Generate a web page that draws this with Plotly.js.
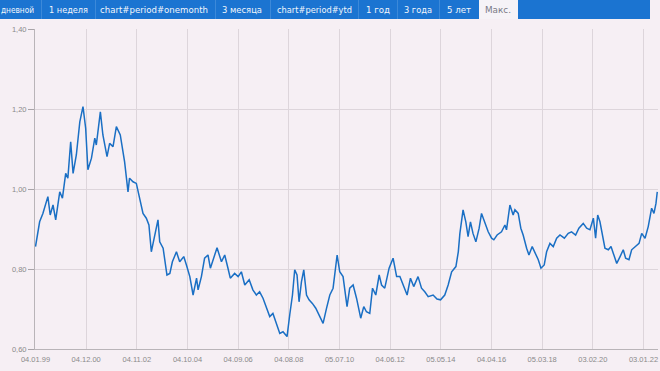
<!DOCTYPE html>
<html>
<head>
<meta charset="utf-8">
<script src="https://cdn.plot.ly/plotly-3.0.1.min.js"></script>
<style>
  html, body { margin: 0; padding: 0; background: #f6eff4; }
  #wrap { position: relative; width: 660px; height: 371px; overflow: hidden; }
  #chart { position: absolute; left: 0; top: 0; width: 660px; height: 371px; }
  #bar { position: absolute; left: 0; top: 0; width: 650px; height: 19px; background: #1b74d1; z-index: 5;
         font-family: "DejaVu Sans", Verdana, sans-serif; font-size: 9.5px; color: #f2f6fc; }
  #bar .t { position: absolute; top: 0; height: 19px; line-height: 19px; white-space: nowrap; display: inline-block; transform-origin: 0 50%; }
  #bar .d { position: absolute; top: 0; width: 1px; height: 19px; background: #3c89d9; }
  #bar .selbox { position: absolute; top: 0; left: 479px; width: 39px; height: 19px; background: #f6f3f7; }
  #bar .sel { color: #7a7a86; }
</style>
</head>
<body>
<div id="wrap">
  <div id="chart"></div>
  <div id="bar"></div>
</div>
<script>
// ---- data ----
var tabLabels = ["дневной", "1 неделя", "chart#period#onemonth", "3 месяца", "chart#period#ytd", "1 год", "3 года", "5 лет", "Макс."];

var xTickVals = ["1999-01-04","2000-12-04","2002-11-04","2004-10-04","2006-09-04","2008-08-04","2010-07-05","2012-06-04","2014-05-05","2016-04-04","2018-03-05","2020-02-03","2022-01-03"];
var xTickText = ["04.01.99","04.12.00","04.11.02","04.10.04","04.09.06","04.08.08","05.07.10","04.06.12","05.05.14","04.04.16","05.03.18","03.02.20","03.01.22"];
var yTickVals = [0.6, 0.8, 1.0, 1.2, 1.4];
var yTickText = ["0,60", "0,80", "1,00", "1,20", "1,40"];

var dates = [
"1999-01-04","1999-03-02","1999-04-16","1999-06-24","1999-07-26","1999-09-03","1999-10-10","1999-12-05",
"2000-01-11","2000-02-25","2000-03-26","2000-05-04","2000-06-06","2000-07-21","2000-09-07","2000-10-21","2000-11-27","2000-12-28",
"2001-02-15","2001-04-02","2001-04-23","2001-06-18","2001-07-23","2001-09-18","2001-10-24","2001-12-10",
"2002-01-25","2002-03-20","2002-05-19","2002-07-05","2002-07-26","2002-09-12","2002-10-28","2002-12-05",
"2003-01-28","2003-03-15","2003-04-20","2003-05-23","2003-07-09","2003-08-23","2003-09-16","2003-11-02","2003-12-25",
"2004-02-03","2004-03-09","2004-05-04","2004-06-18","2004-08-13","2004-09-19","2004-11-05","2004-12-20",
"2005-02-06","2005-02-27","2005-04-14","2005-05-28","2005-07-14","2005-08-16","2005-10-02","2005-11-16",
"2006-01-16","2006-03-02","2006-04-16","2006-05-18","2006-07-17","2006-09-03","2006-10-18","2006-12-04",
"2007-02-03","2007-03-26","2007-05-13","2007-06-27","2007-08-13","2007-09-28","2007-11-14","2007-12-28",
"2008-02-15","2008-04-01","2008-05-15","2008-07-10","2008-08-16","2008-09-23","2008-10-24","2008-11-25","2008-12-23",
"2009-01-25","2009-02-26","2009-04-05","2009-05-10","2009-06-25","2009-08-11","2009-10-06","2009-11-20",
"2010-01-07","2010-02-21","2010-04-07","2010-06-02","2010-07-08","2010-08-23","2010-10-17","2010-11-23",
"2011-01-09","2011-02-25","2011-04-24","2011-06-05","2011-07-12","2011-08-27","2011-10-04","2011-11-18",
"2012-01-04","2012-02-06","2012-03-21","2012-05-20","2012-07-14","2012-09-01","2012-10-16","2012-12-01",
"2013-01-24","2013-03-11","2013-04-25","2013-06-24","2013-08-11","2013-09-25","2013-11-11",
"2014-01-18","2014-03-13","2014-05-01","2014-06-28","2014-08-14","2014-10-01","2014-11-29",
"2015-01-01","2015-01-23","2015-03-08","2015-04-15","2015-05-16","2015-06-18","2015-07-23","2015-09-01","2015-10-16","2015-11-18",
"2016-01-04","2016-02-18","2016-04-05","2016-05-06","2016-06-20","2016-08-20","2016-10-06","2016-10-28","2016-12-14",
"2017-01-28","2017-02-21","2017-04-08","2017-05-14","2017-06-15","2017-08-02","2017-09-03","2017-10-18","2017-11-24",
"2018-01-10","2018-02-16","2018-04-02","2018-05-05","2018-06-20","2018-08-05","2018-09-21","2018-11-06",
"2019-01-05","2019-02-28","2019-04-15","2019-06-10","2019-07-25","2019-09-23","2019-11-10","2019-12-25",
"2020-02-10","2020-03-12","2020-04-10","2020-05-11","2020-06-18","2020-07-19","2020-09-04","2020-10-11","2020-11-12","2020-12-29",
"2021-02-13","2021-03-29","2021-05-01","2021-06-16","2021-07-23","2021-09-17","2021-11-02","2021-12-09",
"2022-01-24","2022-03-09","2022-04-25","2022-05-27","2022-06-24","2022-07-12"
];
var values = [
0.856,0.918,0.939,0.981,0.935,0.960,0.923,0.993,
0.977,1.039,1.027,1.118,1.039,1.085,1.168,1.206,1.152,1.048,
1.077,1.127,1.110,1.193,1.135,1.081,1.114,1.106,
1.156,1.135,1.068,0.993,1.027,1.018,1.014,0.985,
0.939,0.927,0.910,0.843,0.885,0.923,0.868,0.852,0.785,
0.789,0.818,0.843,0.818,0.831,0.810,0.781,0.735,
0.777,0.748,0.781,0.827,0.835,0.802,0.831,0.853,
0.818,0.835,0.802,0.777,0.789,0.781,0.793,0.760,
0.773,0.748,0.735,0.743,0.727,0.702,0.681,0.689,
0.660,0.639,0.643,0.631,0.685,0.735,0.798,0.785,0.718,
0.768,0.798,0.735,0.723,0.714,0.702,0.681,0.664,
0.702,0.735,0.752,0.835,0.793,0.781,0.706,0.752,
0.760,0.727,0.677,0.706,0.693,0.689,0.752,0.735,
0.785,0.760,0.752,0.802,0.827,0.781,0.781,0.760,
0.735,0.777,0.756,0.781,0.752,0.743,0.731,
0.735,0.725,0.723,0.735,0.760,0.793,0.806,
0.843,0.889,0.948,0.918,0.881,0.918,0.889,0.868,0.902,0.939,
0.918,0.893,0.877,0.873,0.885,0.893,0.910,0.898,0.960,
0.935,0.948,0.939,0.902,0.885,0.852,0.835,0.856,0.843,
0.823,0.802,0.810,0.843,0.864,0.856,0.877,0.885,
0.877,0.889,0.893,0.885,0.902,0.914,0.902,0.898,
0.927,0.877,0.935,0.918,0.885,0.852,0.848,0.856,0.839,0.814,
0.831,0.848,0.827,0.823,0.848,0.856,0.864,0.889,
0.877,0.906,0.952,0.939,0.964,0.993
];

// ---- tab bar (HTML) ----
var tabPos = [[1,34],[49,88],[100,208],[222,262],[277,352],[366,390],[404,432],[447,471],[485,511]];
var dividers = [41, 95, 215, 270, 358, 397, 439];
var bar = document.getElementById('bar');
dividers.forEach(function(x){ var d=document.createElement('div'); d.className='d'; d.style.left=x+'px'; bar.appendChild(d); });
var sb = document.createElement('div'); sb.className = 'selbox'; bar.appendChild(sb);
tabLabels.forEach(function(lbl, i){
  var s = document.createElement('div');
  s.className = 't' + (i === tabLabels.length - 1 ? ' sel' : '');
  s.style.left = tabPos[i][0] + 'px';
  s.textContent = lbl;
  bar.appendChild(s);
  var w = s.getBoundingClientRect().width;
  var target = tabPos[i][1] - tabPos[i][0];
  if (w > 0) s.style.transform = 'scaleX(' + (target / w) + ')';
});

// ---- chart ----
var trace = {
  x: dates, y: values, type: 'scatter', mode: 'lines',
  line: { color: '#1a6fc4', width: 1.5 },
  hoverinfo: 'skip'
};
var layout = {
  width: 660, height: 371,
  margin: { l: 35, r: 2, t: 29, b: 22, pad: 0 },
  paper_bgcolor: '#f6eff4', plot_bgcolor: '#f6eff4',
  showlegend: false,
  font: { family: 'Liberation Sans, Arial, sans-serif', size: 7.5, color: '#8a8a8a' },
  xaxis: {
    type: 'date', range: ['1998-12-28', '2022-07-22'],
    tickmode: 'array', tickvals: xTickVals, ticktext: xTickText,
    showgrid: true, gridcolor: '#ddd5db', gridwidth: 1,
    showline: true, linecolor: '#b9b4b8', linewidth: 1,
    ticks: '', zeroline: false, tickangle: 0, ticklabelstandoff: 3,
    tickfont: { size: 7.5, color: '#8a8a8a' }
  },
  yaxis: {
    range: [0.6, 1.4], tickmode: 'array', tickvals: yTickVals, ticktext: yTickText,
    showgrid: true, gridcolor: '#ddd5db', gridwidth: 1,
    showline: true, linecolor: '#b9b4b8', linewidth: 1,
    ticks: 'outside', ticklen: 6, tickcolor: '#a9a4a8', tickwidth: 1,
    zeroline: false, tickfont: { size: 7.5, color: '#8a8a8a' }
  }
};
Plotly.newPlot('chart', [trace], layout, { staticPlot: true, displayModeBar: false });
</script>
</body>
</html>
